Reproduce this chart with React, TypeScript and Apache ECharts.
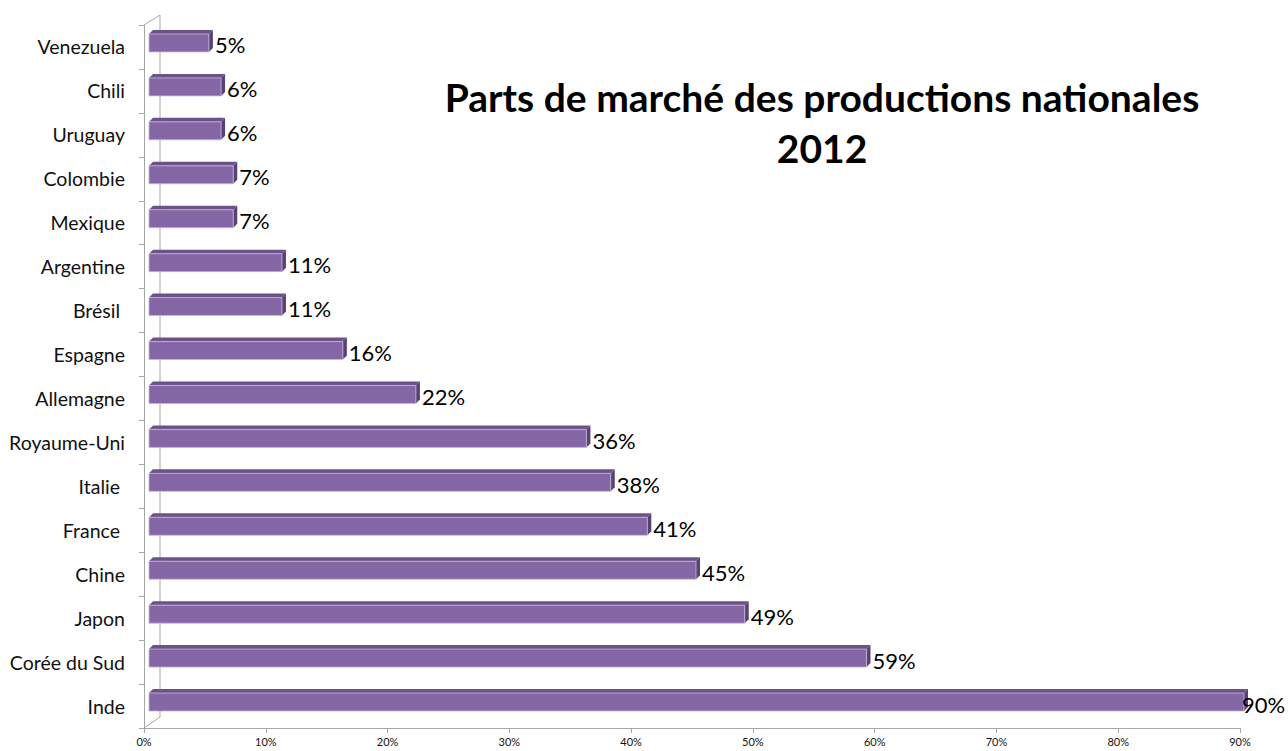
import React, { useEffect, useRef } from "react";
import * as echarts from "echarts";

const categories = [
  "Venezuela", "Chili", "Uruguay", "Colombie", "Mexique", "Argentine", "Brésil ",
  "Espagne", "Allemagne", "Royaume-Uni", "Italie ", "France ", "Chine", "Japon",
  "Corée du Sud", "Inde",
];
const shares = [5, 6, 6, 7, 7, 11, 11, 16, 22, 36, 38, 41, 45, 49, 59, 90];
const titleLines = ["Parts de marché des productions nationales", "2012"];
const axisMax = 90;
const axisStep = 10;

export default function App() {
  const ref = useRef<HTMLDivElement>(null);
  useEffect(() => {
    document.body.style.margin = "0";
    const chart = echarts.init(ref.current!, null, { renderer: "svg" });
    const W = 1288;
    chart.setOption({
      animation: false,
      backgroundColor: "#ffffff",
      grid: { left: 144, right: 48, top: 25, bottom: 23, containLabel: false },
      xAxis: {
        type: "value",
        min: 0,
        max: axisMax,
        interval: axisStep,
        axisLine: { show: true, lineStyle: { color: "#a6a6a6", width: 1 } },
        axisTick: { show: true, length: 5, lineStyle: { color: "#a6a6a6" } },
        axisLabel: { formatter: "{value}%", fontFamily: "Lato", fontSize: 11, color: "#111", margin: 8 },
        splitLine: { show: false },
      },
      yAxis: {
        type: "category",
        inverse: true,
        data: categories,
        axisLine: { show: true, lineStyle: { color: "#a6a6a6", width: 1 } },
        axisTick: { show: true, length: 5, lineStyle: { color: "#a6a6a6" } },
        axisLabel: { fontFamily: "Lato", fontSize: 19.5, color: "#111", margin: 19 },
      },
      graphic: [
        { type: "line", shape: { x1: 144, y1: 25, x2: 160, y2: 15 }, style: { stroke: "#a6a6a6", lineWidth: 1 } },
        { type: "line", shape: { x1: 160, y1: 15, x2: 160, y2: 717 }, style: { stroke: "#a6a6a6", lineWidth: 1 } },
        { type: "line", shape: { x1: 144, y1: 728, x2: 160, y2: 717 }, style: { stroke: "#a6a6a6", lineWidth: 1 } },
        {
          type: "text",
          x: 822,
          y: 97,
          style: {
            text: titleLines[0],
            textAlign: "center",
            textVerticalAlign: "middle",
            font: "bold 39px Lato",
            fill: "#000",
          },
        },
        {
          type: "text",
          x: 822,
          y: 148,
          style: {
            text: titleLines[1],
            textAlign: "center",
            textVerticalAlign: "middle",
            font: "bold 39px Lato",
            fill: "#000",
          },
        },
      ],
      series: [
        {
          type: "custom",
          clip: false,
          encode: { x: 0, y: 1 },
          data: shares.map((v, i) => [v, i]),
          renderItem: (params: any, api: any) => {
            const v = api.value(0);
            const idx = api.value(1);
            const s = api.coord([0, idx]);
            const e = api.coord([v, idx]);
            const x0 = s[0] + 5;
            const x1 = e[0] + 4;
            const yc = s[1] - 4;
            const h = 18;
            const yt = yc - h / 2;
            const yb = yc + h / 2;
            const d = 4;
            const labelW = 46;
            const lx = Math.min(x1 + d + 2, W - labelW);
            return {
              type: "group",
              children: [
                {
                  type: "polygon",
                  shape: { points: [[x0, yt], [x1, yt], [x1 + d, yt - d], [x0 + d, yt - d]] },
                  style: { fill: "#6b5389" },
                },
                {
                  type: "polygon",
                  shape: { points: [[x1, yt], [x1 + d, yt - d], [x1 + d, yb - d], [x1, yb]] },
                  style: { fill: "#574373" },
                },
                {
                  type: "rect",
                  shape: { x: x0, y: yt, width: x1 - x0, height: h },
                  style: { fill: "#8567a5", stroke: "#c7b8da", lineWidth: 0.8 },
                },
                {
                  type: "text",
                  x: lx,
                  y: s[1] - 2,
                  style: {
                    text: v + "%",
                    textAlign: "left",
                    textVerticalAlign: "middle",
                    font: "22px Lato",
                    fill: "#000",
                  },
                },
              ],
            };
          },
        },
      ],
    });
    return () => chart.dispose();
  }, []);
  return <div ref={ref} style={{ width: 1288, height: 751 }} />;
}
